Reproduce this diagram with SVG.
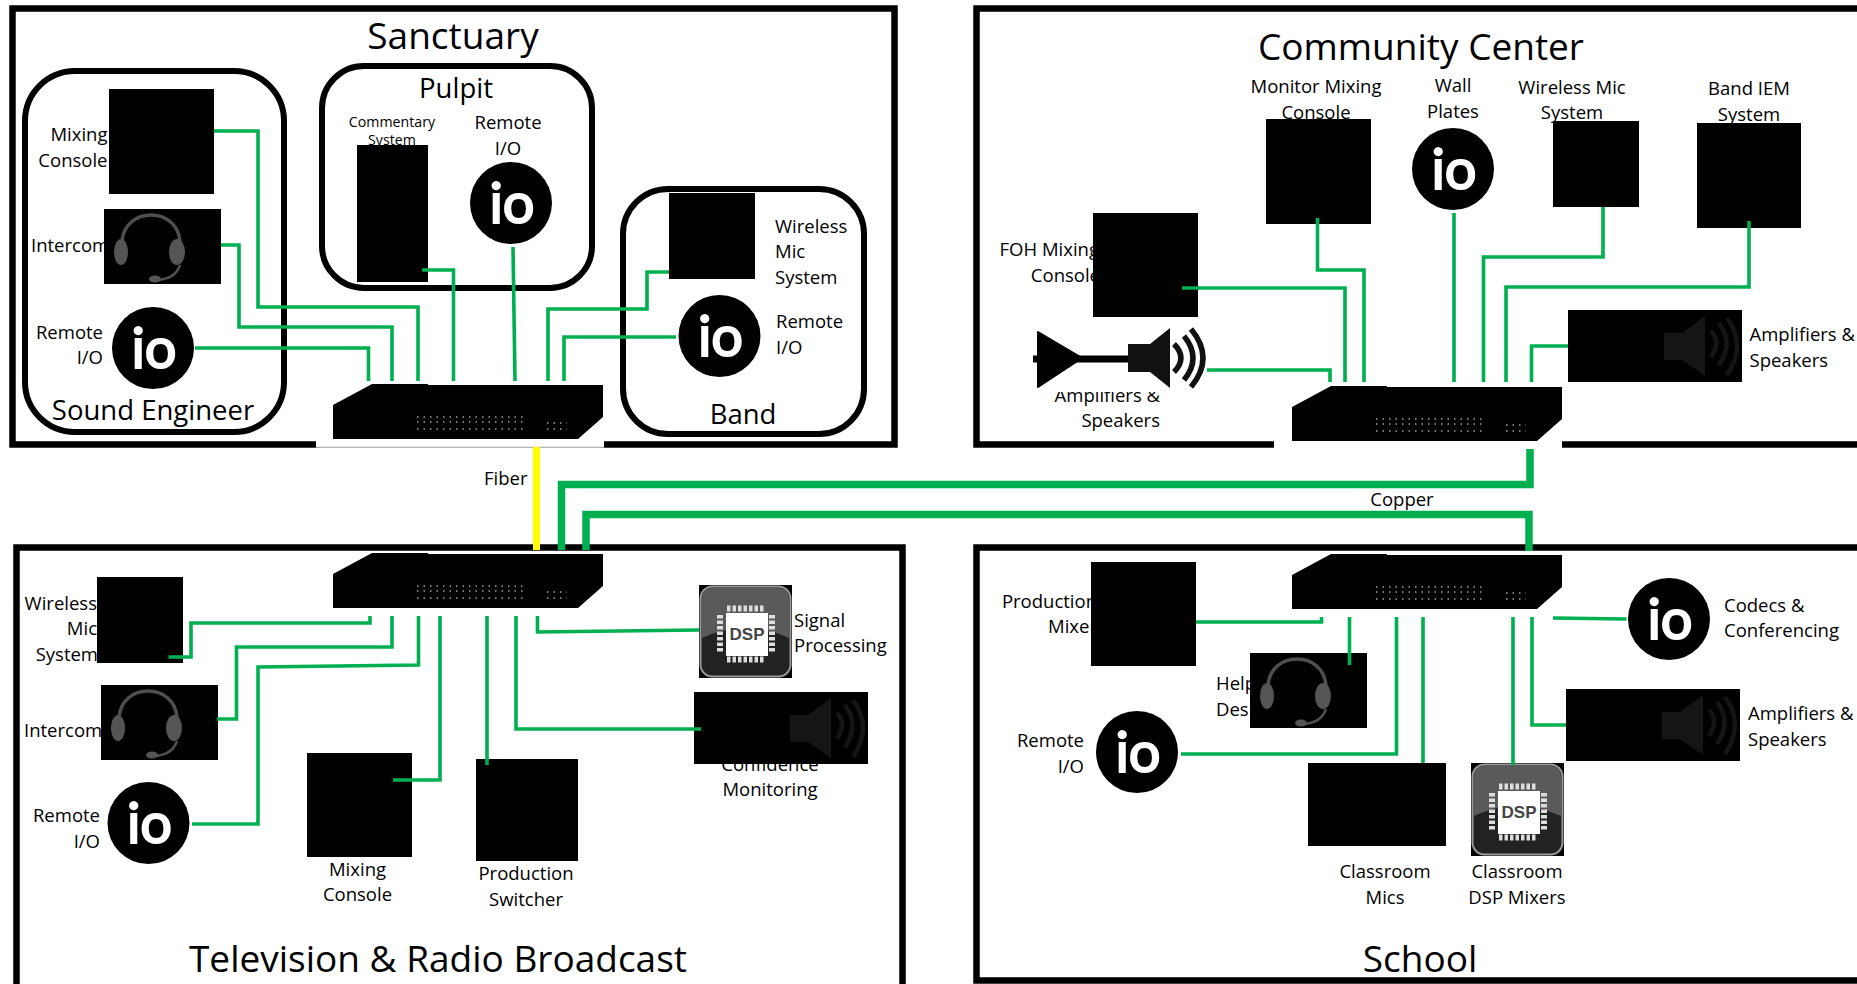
<svg xmlns="http://www.w3.org/2000/svg" width="1857" height="984" viewBox="0 0 1857 984">
<style>
text{font-family:"Open Sans","Liberation Sans",sans-serif;font-size:18.5px;fill:#000}
.t{font-size:37px}.s{font-size:27.5px}.c{font-size:14.2px}
.m{text-anchor:middle}.e{text-anchor:end}
.box{fill:none;stroke:#000;stroke-width:6.5}
.room{fill:none;stroke:#000;stroke-width:6}
.k{fill:#000}
.w{fill:none;stroke:#00b050;stroke-width:3.6}
.f{fill:none;stroke:#00b050;stroke-width:7.5}
.io{font-family:"Lato","Open Sans",sans-serif;font-size:56px;fill:#fff;stroke:#fff;stroke-width:2;text-anchor:middle}
.dsp{font-family:"Liberation Sans",sans-serif;font-size:17px;font-weight:bold;fill:#444;text-anchor:middle}
</style>
<defs>
<symbol id="sw" overflow="visible">
<polygon points="333,405 372,384 428,384 428,385 603,385 603,417 578,439 333,439" fill="#000"/>
<path d="M417 417H527M417 422H527M417 429H527M547 423H567M547 429H567" stroke="#eee" stroke-width="1" stroke-dasharray="1.5 5" fill="none"/>
</symbol>
<symbol id="io" overflow="visible">
<circle r="41" fill="#000"/>
<text class="io" x="1" y="20">io</text>
</symbol>
<symbol id="head" overflow="visible">
<rect width="117" height="75" fill="#000"/>
<path d="M18 33C20 -3 74 -3 76 33" fill="none" stroke="#4f4f4f" stroke-width="3.500"/>
<ellipse cx="17" cy="43" rx="7" ry="13" fill="#555"/>
<ellipse cx="73" cy="43" rx="8" ry="13" fill="#555"/>
<path d="M76 56C72 68 62 70 54 71" fill="none" stroke="#4f4f4f" stroke-width="2.500"/>
<ellipse cx="51" cy="70" rx="6" ry="3.500" fill="#555"/>
</symbol>
<symbol id="amp" overflow="visible">
<rect width="174" height="72" fill="#000"/>
<path d="M96 23H114L137 6V66L114 50H96Z" fill="#151515"/>
<path d="M143 21Q153 31 143 47M151 13Q166 33 151 55M159 8Q179 35 159 65" fill="none" stroke="#151515" stroke-width="4.500"/>
</symbol>
<symbol id="dsp" overflow="visible">
<rect width="93" height="93" fill="#000"/>
<rect x="1.500" y="1.500" width="90" height="90" rx="12" fill="#222" stroke="#999" stroke-width="2"/>
<path d="M3 53Q46 33 90 53V14Q90 3 79 3H14Q3 3 3 14Z" fill="#5a5a5a"/>
<path d="M28 23.500H66M28 74.500H66" stroke="#ddd" stroke-width="6" stroke-dasharray="3.500 2" fill="none"/>
<path d="M21 30V68M73 30V68" stroke="#ddd" stroke-width="6" stroke-dasharray="3.500 2" fill="none"/>
<rect x="27" y="28" width="42" height="43" fill="#fff"/>
<text class="dsp" x="48" y="55">DSP</text>
</symbol>
</defs>

<g id="frames">
<rect class="box" x="12.500" y="8.500" width="882" height="436"/>
<rect class="box" x="976.500" y="8.500" width="1000" height="436"/>
<rect class="box" x="16.500" y="547.500" width="886" height="500"/>
<rect class="box" x="976.500" y="547.500" width="1000" height="433"/>
</g>

<g id="sanctuary-labels">
<text class="t m" x="453" y="49">Sanctuary</text>
<text class="s m" x="456" y="98">Pulpit</text>
<text class="s m" x="153" y="420">Sound Engineer</text>
<text class="s m" x="743" y="424">Band</text>
</g>
<g id="sound-engineer"><rect class="room" x="25" y="71" width="259" height="361" rx="50"/></g>
<g id="pulpit"><rect class="room" x="322" y="66" width="270" height="222" rx="42"/></g>
<g id="band"><rect class="room" x="623" y="189" width="241" height="245" rx="45"/></g>

<g id="sw-sanctuary">
<rect x="316" y="441" width="288" height="6.500" fill="#fff"/>
<path d="M316 447H604" stroke="#ccc" stroke-width="1"/>
<use href="#sw"/>
</g>
<g id="sw-community">
<rect x="1274" y="441" width="288" height="7" fill="#fff"/>
<use href="#sw" x="959" y="2"/>
</g>
<g id="sw-broadcast"><use href="#sw" y="169"/></g>
<g id="sw-school"><use href="#sw" x="959" y="170"/></g>

<g id="n-mixing">
<text class="e" x="107.500" y="141">Mixing</text><text class="e" x="107.500" y="167">Console</text>
<rect class="k" x="109" y="89" width="105" height="105"/>
</g>
<g id="n-intercom">
<text x="31" y="252">Intercom</text>
<use href="#head" x="104" y="209"/>
</g>
<g id="n-remote-se">
<text class="e" x="103" y="339">Remote</text><text class="e" x="103" y="364">I/O</text>
<use href="#io" x="153" y="348"/>
</g>
<g id="n-commentary">
<text class="c m" x="392" y="127">Commentary</text><text class="c m" x="392" y="145">System</text>
<rect class="k" x="357" y="145" width="71" height="137"/>
</g>
<g id="n-remote-pulpit">
<text class="m" x="508" y="129">Remote</text><text class="m" x="508" y="155">I/O</text>
<use href="#io" x="511" y="203"/>
</g>
<g id="n-wireless-band">
<rect class="k" x="669" y="193" width="86" height="86"/>
<text x="775" y="233">Wireless</text><text x="775" y="258">Mic</text><text x="775" y="284">System</text>
</g>
<g id="n-remote-band">
<use href="#io" x="719.500" y="336"/>
<text x="776" y="328">Remote</text><text x="776" y="354">I/O</text>
</g>

<text x="484" y="485">Fiber</text>
<text class="m" x="1402" y="506">Copper</text>

<text class="t m" x="1421" y="60">Community Center</text>
<g id="n-monitor">
<text class="m" x="1316" y="93">Monitor Mixing</text><text class="m" x="1316" y="119">Console</text>
<rect class="k" x="1266" y="119" width="105" height="105"/>
</g>
<g id="n-wall">
<text class="m" x="1453" y="92">Wall</text><text class="m" x="1453" y="118">Plates</text>
<use href="#io" x="1453" y="169"/>
</g>
<g id="n-wireless-cc">
<text class="m" x="1572" y="94">Wireless Mic</text><text class="m" x="1572" y="119">System</text>
<rect class="k" x="1553" y="121" width="86" height="86"/>
</g>
<g id="n-iem">
<text class="m" x="1749" y="95">Band IEM</text><text class="m" x="1749" y="121">System</text>
<rect class="k" x="1697" y="123" width="104" height="105"/>
</g>
<g id="n-foh">
<text class="e" x="1099" y="256">FOH Mixing</text><text class="e" x="1100" y="282">Console</text>
<rect class="k" x="1093" y="213" width="105" height="104"/>
</g>
<g id="n-amp-left">
<text class="e" x="1160" y="402">Amplifiers &amp;</text><text class="e" x="1160" y="427">Speakers</text>
<rect x="1030" y="325" width="180" height="67" fill="#fff"/>
<path d="M1038 332L1082 358L1038 387Z" fill="#000" stroke="#000" stroke-width="2" stroke-linejoin="round"/>
<path d="M1033 359H1137" stroke="#000" stroke-width="7"/>
<path d="M1128 344H1150L1170 328V388L1150 372H1128Z" fill="#111"/>
<path d="M1174 344Q1188 358 1174 372M1184 336Q1202 358 1184 380M1191 329Q1215 358 1191 387" fill="none" stroke="#111" stroke-width="5.500"/>
</g>
<g id="n-amp-right">
<use href="#amp" x="1568" y="310"/>
<text x="1749.500" y="341">Amplifiers &amp;</text><text x="1749.500" y="367">Speakers</text>
</g>

<text class="t m" x="438" y="972">Television &amp; Radio Broadcast</text>
<g id="n-wireless-tv">
<text class="e" x="97" y="610">Wireless</text><text class="e" x="97" y="635">Mic</text><text class="e" x="98" y="661">System</text>
<rect class="k" x="97" y="577" width="86" height="86"/>
</g>
<g id="n-intercom-tv">
<text x="24" y="737">Intercom</text>
<use href="#head" x="101" y="685"/>
</g>
<g id="n-remote-tv">
<text class="e" x="100" y="822">Remote</text><text class="e" x="100" y="848">I/O</text>
<use href="#io" x="148.500" y="823"/>
</g>
<g id="n-mixing-tv">
<rect class="k" x="307" y="753" width="105" height="104"/>
<text class="m" x="357.500" y="876">Mixing</text><text class="m" x="357.500" y="901">Console</text>
</g>
<g id="n-switcher">
<rect class="k" x="476" y="759" width="102" height="102"/>
<text class="m" x="526" y="880">Production</text><text class="m" x="526" y="906">Switcher</text>
</g>
<g id="n-dsp-tv">
<use href="#dsp" x="699" y="585"/>
<text x="794" y="627">Signal</text><text x="794" y="652">Processing</text>
</g>
<g id="n-confidence">
<text class="m" x="770" y="771">Confidence</text><text class="m" x="770" y="796">Monitoring</text>
<use href="#amp" x="694" y="692"/>
</g>

<text class="t m" x="1420" y="972">School</text>
<g id="n-production">
<text class="e" x="1097" y="608">Production</text><text class="e" x="1097" y="633">Mixer</text>
<rect class="k" x="1091" y="562" width="105" height="104"/>
</g>
<g id="n-helpdesk">
<text x="1216" y="690">Help</text><text x="1216" y="716">Desk</text>
<use href="#head" x="1250" y="653"/>
</g>
<g id="n-remote-school">
<text class="e" x="1084" y="747">Remote</text><text class="e" x="1084" y="773">I/O</text>
<use href="#io" x="1137" y="752"/>
</g>
<g id="n-mics">
<rect class="k" x="1308" y="763" width="138" height="83"/>
<text class="m" x="1385" y="878">Classroom</text><text class="m" x="1385" y="904">Mics</text>
</g>
<g id="n-dsp-school">
<use href="#dsp" x="1471" y="763"/>
<text class="m" x="1517" y="878">Classroom</text><text class="m" x="1517" y="904">DSP Mixers</text>
</g>
<g id="n-amp-school">
<use href="#amp" x="1566" y="689"/>
<text x="1748" y="720">Amplifiers &amp;</text><text x="1748" y="746">Speakers</text>
</g>
<g id="n-codecs">
<use href="#io" x="1669" y="619"/>
<text x="1724" y="612">Codecs &amp;</text><text x="1724" y="637">Conferencing</text>
</g>

<g id="connectors">
<path class="w" d="M214 131H258V307H418V381"/>
<path class="w" d="M221 245H239V327H392V381"/>
<path class="w" d="M195 348H368.500V381"/>
<path class="w" d="M422 270H453.500V381"/>
<path class="w" d="M513 247L515 381"/>
<path class="w" d="M669 272H647V309H548V381"/>
<path class="w" d="M676 337H564V381"/>

<path class="w" d="M1182 288H1345V382"/>
<path class="w" d="M1317.500 218V270H1364V382"/>
<path class="w" d="M1454 213V382"/>
<path class="w" d="M1603 207V257H1483.500V382"/>
<path class="w" d="M1749 221V287H1506V382"/>
<path class="w" d="M1568 346H1531.500V382"/>
<path class="w" d="M1207 370H1330V382"/>

<path class="w" d="M168.500 657H191V623H370V616"/>
<path class="w" d="M217 719H236.500V647H392V616"/>
<path class="w" d="M192 824H258V667L418.500 665V616"/>
<path class="w" d="M393 780H440V616"/>
<path class="w" d="M487 616V765"/>
<path class="w" d="M516 616V729H701"/>
<path class="w" d="M537.500 616V632L699 630"/>

<path class="w" d="M1196 622H1321.500V617"/>
<path class="w" d="M1349.500 617V665"/>
<path class="w" d="M1181 754H1396.500V617"/>
<path class="w" d="M1423 617V763"/>
<path class="w" d="M1513 617V765"/>
<path class="w" d="M1532 617V725H1566"/>
<path class="w" d="M1553 618L1626.500 619"/>

<path d="M536.500 447V550" fill="none" stroke="#ff0" stroke-width="7"/>
<path class="f" d="M1530 449V484.500H561.500V550"/>
<path class="f" d="M1529 551V514.500H586V550"/>
</g>
</svg>
